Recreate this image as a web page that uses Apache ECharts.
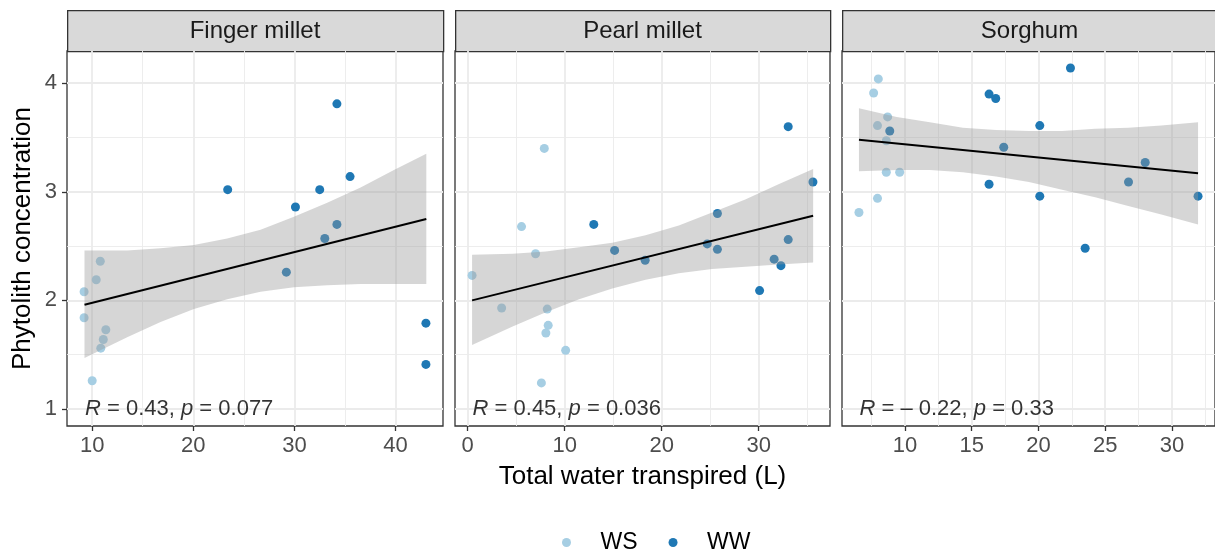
<!DOCTYPE html>
<html>
<head>
<meta charset="utf-8">
<script src="https://cdn.jsdelivr.net/npm/echarts@6/dist/echarts.min.js"></script>
<style>
  html, body { margin: 0; padding: 0; background: #fff; }
  #chart { width: 1215px; height: 553px; }
</style>
</head>
<body>
<div id="chart"></div>
<script>
// panels (facets)
const crops = ['Finger millet', 'Pearl millet', 'Sorghum'];

// points: [water transpired (L), phytolith concentration]
const fingerWS = [[9.2, 2.08], [9.2, 1.84], [10.4, 2.19], [10.8, 2.36], [11.35, 1.73], [11.1, 1.64], [10.85, 1.56], [10.0, 1.26]];
const fingerWW = [[23.4, 3.02], [30.1, 2.86], [32.5, 3.02], [34.2, 3.81], [35.5, 3.14], [34.2, 2.70], [33.0, 2.57], [29.2, 2.26], [43.0, 1.79], [43.0, 1.41]];
const pearlWS = [[7.9, 3.40], [5.55, 2.68], [7.0, 2.43], [0.45, 2.23], [3.5, 1.93], [8.2, 1.92], [8.3, 1.77], [8.06, 1.70], [10.1, 1.54], [7.6, 1.24]];
const pearlWW = [[13.0, 2.70], [15.15, 2.46], [18.3, 2.37], [24.7, 2.52], [25.75, 2.80], [25.75, 2.47], [30.1, 2.09], [31.6, 2.38], [32.3, 2.32], [33.05, 2.56], [33.05, 3.60], [35.6, 3.09]];
const sorghumWS = [[6.55, 2.81], [7.65, 3.91], [8.0, 4.04], [7.94, 3.61], [8.7, 3.69], [8.6, 3.47], [8.6, 3.18], [9.6, 3.18], [7.94, 2.94]];
const sorghumWW = [[8.86, 3.56], [16.3, 3.90], [16.8, 3.86], [16.3, 3.07], [17.4, 3.41], [20.1, 3.61], [20.1, 2.96], [22.4, 4.14], [23.5, 2.48], [26.75, 3.09], [28.0, 3.27], [31.96, 2.96]];

// fitted lines (end points) and confidence bands [x, lower, upper]
const fingerFit = [[9.24, 1.96], [43.04, 2.75]];
const pearlFit = [[0.45, 2.00], [35.62, 2.78]];
const sorghumFit = [[6.55, 3.48], [31.96, 3.17]];

const fingerBand = [
  [9.24, 1.47, 2.46], [13.46, 1.66, 2.46], [16.76, 1.80, 2.48], [20.06, 1.92, 2.51],
  [23.35, 2.01, 2.57], [26.65, 2.08, 2.65], [29.95, 2.12, 2.77], [33.24, 2.14, 2.90],
  [36.54, 2.15, 3.04], [39.84, 2.15, 3.20], [43.04, 2.15, 3.35]
];
const pearlBand = [
  [0.45, 1.59, 2.42], [4.63, 1.76, 2.43], [8.06, 1.89, 2.45], [11.48, 2.01, 2.49],
  [14.91, 2.11, 2.53], [18.34, 2.19, 2.60], [21.77, 2.25, 2.69], [25.20, 2.29, 2.81],
  [28.62, 2.31, 2.93], [32.05, 2.33, 3.07], [35.62, 2.35, 3.21]
];
const sorghumBand = [
  [6.55, 3.19, 3.77], [9.38, 3.20, 3.69], [11.86, 3.20, 3.64], [14.34, 3.18, 3.59],
  [16.82, 3.14, 3.57], [19.29, 3.09, 3.56], [21.77, 3.02, 3.56], [24.25, 2.95, 3.58],
  [26.73, 2.87, 3.59], [29.21, 2.79, 3.61], [31.96, 2.70, 3.64]
];

// correlation labels
const corLabels = ['{i|R} = 0.43, {i|p} = 0.077', '{i|R} = 0.45, {i|p} = 0.036', '{i|R} = \u2013 0.22, {i|p} = 0.33'];
const corX = [9.24, 0.45, 6.55];
const corY = 1;

// axes
const xMin = [7.51, -1.31, 5.28];
const xMax = [44.69, 37.36, 33.23];
const xStep = [10, 10, 5];
const xTicks = [[10, 20, 30, 40], [0, 10, 20, 30], [10, 15, 20, 25, 30]];
const yTicks = [1, 2, 3, 4];

const WS_COLOR = '#a6cee3';
const WW_COLOR = '#1f78b4';
const FONT = '"Liberation Sans", Arial, sans-serif';

const wsData = [fingerWS, pearlWS, sorghumWS];
const wwData = [fingerWW, pearlWW, sorghumWW];
const fitData = [fingerFit, pearlFit, sorghumFit];
const bandData = [fingerBand, pearlBand, sorghumBand];

const panelLeft = [67, 455, 842];
const panelWidth = [376, 375, 375];
const panelTop = 51;
const panelHeight = 375;

const chart = echarts.init(document.getElementById('chart'));

// band polygon drawn once, through the axes' own scales
function bandItem(params, api) {
  if (params.dataIndexInside !== 0) return null;
  const lower = [];
  const upper = [];
  for (let i = 0; i < params.dataInsideLength; i++) {
    lower.push(api.coord([api.value(0, i), api.value(1, i)]));
    upper.unshift(api.coord([api.value(0, i), api.value(2, i)]));
  }
  return {
    type: 'polygon',
    shape: { points: lower.concat(upper) },
    style: { fill: 'rgba(153,153,153,0.4)' }
  };
}

const grids = [];
const xAxes = [];
const yAxes = [];
const series = [];
const graphics = [];

crops.forEach((crop, i) => {
  grids.push({
    left: panelLeft[i], top: panelTop, width: panelWidth[i], height: panelHeight,
    show: true, borderColor: '#333', borderWidth: 1.3, backgroundColor: '#fff'
  });

  xAxes.push({
    type: 'value', gridIndex: i,
    min: xMin[i], max: xMax[i],
    minInterval: xStep[i], maxInterval: xStep[i],
    axisLine: { show: false },
    axisTick: { show: true, length: 5, customValues: xTicks[i], lineStyle: { color: '#333', width: 1.3 } },
    axisLabel: { customValues: xTicks[i], color: '#4d4d4d', fontSize: 22, fontFamily: FONT, margin: 9 },
    splitLine: { show: true, lineStyle: { color: '#ebebeb', width: 1.8 } },
    minorTick: { show: false, splitNumber: 2 },
    minorSplitLine: { show: true, lineStyle: { color: '#ebebeb', width: 0.9 } },
    name: i === 1 ? 'Total water transpired (L)' : '',
    nameLocation: 'middle', nameGap: 38,
    nameTextStyle: { color: '#000', fontSize: 26, fontFamily: FONT }
  });

  yAxes.push({
    type: 'value', gridIndex: i,
    min: 0.843, max: 4.297,
    minInterval: 1, maxInterval: 1,
    axisLine: { show: false },
    axisTick: { show: i === 0, length: 5, customValues: yTicks, lineStyle: { color: '#333', width: 1.3 } },
    axisLabel: { show: i === 0, customValues: yTicks, color: '#4d4d4d', fontSize: 22, fontFamily: FONT, margin: 10 },
    splitLine: { show: true, lineStyle: { color: '#ebebeb', width: 1.8 } },
    minorTick: { show: false, splitNumber: 2 },
    minorSplitLine: { show: true, lineStyle: { color: '#ebebeb', width: 0.9 } },
    name: i === 0 ? 'Phytolith concentration' : '',
    nameLocation: 'middle', nameGap: 31,
    nameTextStyle: { color: '#000', fontSize: 26, fontFamily: FONT }
  });

  series.push({
    name: 'WS', type: 'scatter', xAxisIndex: i, yAxisIndex: i, z: 2,
    symbolSize: 9, itemStyle: { color: WS_COLOR, opacity: 1 }, data: wsData[i]
  });
  series.push({
    name: 'WW', type: 'scatter', xAxisIndex: i, yAxisIndex: i, z: 2,
    symbolSize: 9, itemStyle: { color: WW_COLOR, opacity: 1 }, data: wwData[i]
  });
  series.push({
    type: 'custom', xAxisIndex: i, yAxisIndex: i, z: 3, silent: true,
    renderItem: bandItem, encode: { x: 0, y: 1 }, data: bandData[i]
  });
  series.push({
    type: 'line', xAxisIndex: i, yAxisIndex: i, z: 4, silent: true,
    symbol: 'none', lineStyle: { color: '#000', width: 2 }, data: fitData[i]
  });
  series.push({
    type: 'scatter', xAxisIndex: i, yAxisIndex: i, z: 5, silent: true,
    symbolSize: 1, itemStyle: { color: 'rgba(0,0,0,0)' },
    label: {
      show: true, position: 'right', distance: 0,
      formatter: corLabels[i],
      color: '#000', fontSize: 22, fontFamily: FONT,
      rich: { i: { fontStyle: 'italic', fontSize: 22, fontFamily: FONT, color: '#000' } }
    },
    data: [[corX[i], corY]]
  });

  // facet strip
  graphics.push({
    type: 'rect', left: panelLeft[i], top: 10,
    shape: { width: panelWidth[i], height: 41 },
    style: { fill: '#d9d9d9', stroke: '#333', lineWidth: 1.3 }
  });
  graphics.push({
    type: 'text', x: panelLeft[i] + panelWidth[i] / 2, y: 31.5,
    style: { text: crop, fill: '#1a1a1a', font: '24px ' + FONT, textAlign: 'center', textVerticalAlign: 'middle' }
  });
});

chart.setOption({
  animation: false,
  backgroundColor: '#fff',
  grid: grids,
  xAxis: xAxes,
  yAxis: yAxes,
  series: series,
  graphic: graphics,
  legend: {
    data: ['WS', 'WW'],
    left: 557, top: 526,
    icon: 'circle', itemWidth: 58, itemHeight: 9, itemGap: 31,
    textStyle: { color: '#000', fontSize: 23, fontFamily: FONT }
  }
});

window.addEventListener('resize', () => chart.resize());
</script>
</body>
</html>
